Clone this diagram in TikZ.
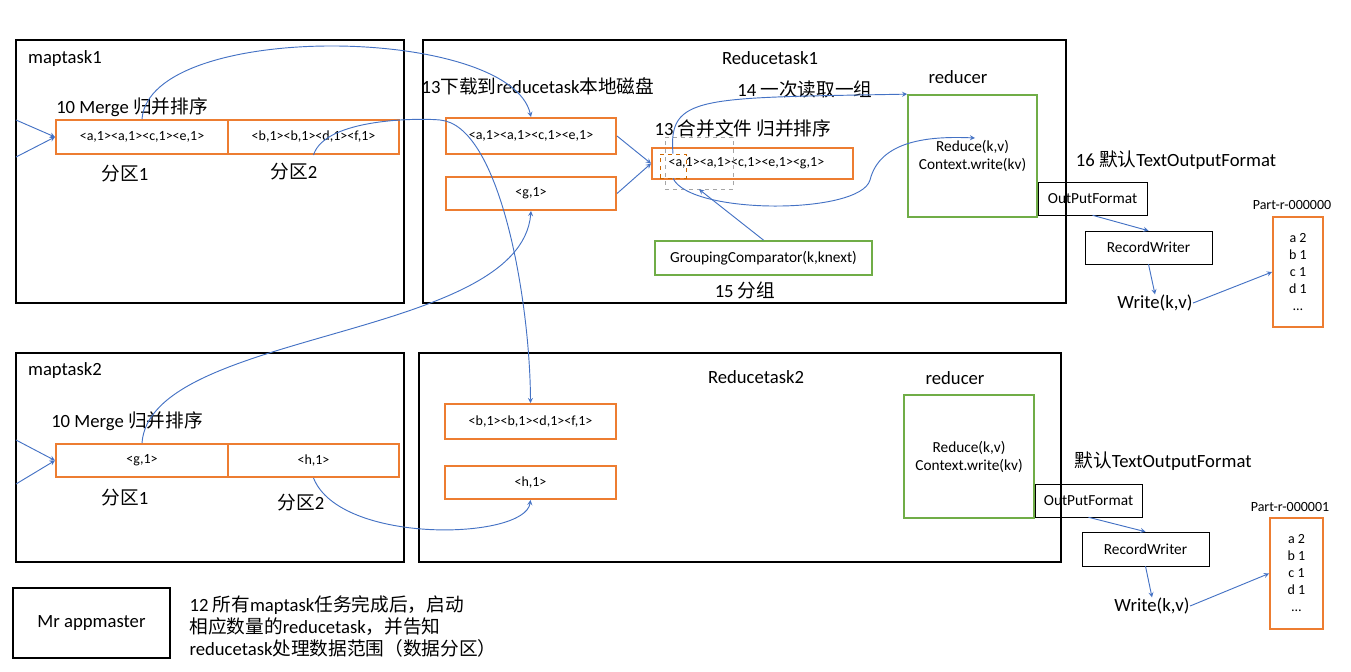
\documentclass[tikz,border=0pt]{standalone}
\usepackage{fontspec}
\setmainfont{Carlito}
\newfontfamily\cjk{Noto Sans CJK SC}
\usetikzlibrary{positioning}
\definecolor{flowblue}{HTML}{4472C4}
\definecolor{partorange}{HTML}{ED7D31}
\definecolor{redgreen}{HTML}{70AD47}
\newcommand{\bigtxt}{\fontsize{14}{16.5}\selectfont}
\newcommand{\midtxt}{\fontsize{11.5}{13.5}\selectfont}
\newcommand{\smalltxt}{\fontsize{10.5}{12.75}\selectfont}

\begin{document}
\begin{tikzpicture}[x=0.75pt,y=-0.75pt,>=stealth,thick]
	\tikzset{sz/.style 2 args={minimum width=#1*0.75pt,minimum height=#2*0.75pt,inner sep=0pt},
		task/.style={draw=black,line width=1.3pt},
		part/.style={draw=partorange,line width=1.5pt,font=\smalltxt},
		green/.style={draw=redgreen,line width=1.3pt,font=\midtxt},
		flow/.style={-{stealth[scale=1.3]},draw=flowblue,line width=0.7pt},
		lbl/.style={font=\bigtxt,inner sep=0pt}}
	\useasboundingbox (0,0) rectangle (1351,671);

	% frames
	\node[task,sz={388}{263}] (MAP1) at (210,171.5) {};
	\node[task,sz={643}{263}] (RED1) at (744.5,171.5) {};
	\node[task,sz={388}{209}] (MAP2) at (210,457.5) {};
	\node[task,sz={642}{209}] (RED2) at (740,457.5) {};
	\node[task,sz={157}{70},font=\bigtxt] (MR) at (91.5,623) {Mr appmaster};

	% maptask partitions
	\node[part,sz={172}{34}] (M1A) at (142,137) {<a,1><a,1><c,1><e,1>};
	\node[part,sz={171}{34}] (M1B) at (313.5,137) {<b,1><b,1><d,1><f,1>};
	\node[part,sz={172}{33}] (M2A) at (142,460.5) {<g,1>};
	\node[part,sz={171}{33}] (M2B) at (313.5,460.5) {<h,1>};

	% reducetask1
	\node[part,sz={170}{36}] (R1A) at (531,136) {<a,1><a,1><c,1><e,1>};
	\node[part,sz={170}{33}] (R1B) at (531,193.5) {<g,1>};
	\node[part,sz={201}{31}] (MERGE) at (752.5,163.5) {};
	\node[font=\smalltxt,inner sep=0pt,anchor=west] at (668,163.5) {<a,1><a,1><c,1><e,1><g,1>};
	\node[draw=gray!70,dashed,thin,sz={68}{52}] (GD) at (699,163) {};
	\node[draw=orange!80!black,dashed,thin,sz={26}{24}] (OA) at (673,166) {};
	\node[green,sz={217}{34}] (GRP) at (763.5,258) {GroupingComparator(k,knext)};
	\node[green,sz={129}{122},align=center] (RD1) at (972.5,156) {Reduce(k,v)\\Context.write(kv)};
	\node[task,thin,sz={109}{33},font=\midtxt] (OF1) at (1092.5,198.5) {OutPutFormat};
	\node[task,thin,sz={127}{33},font=\midtxt] (RW1) at (1148.5,247.5) {RecordWriter};
	\node[part,sz={50}{110},align=center] (P1) at (1298,272) {a 2\\b 1\\c 1\\d 1\\…};
	\node[lbl] (W1) at (1155,303) {Write(k,v)};

	% reducetask2
	\node[part,sz={171}{35}] (R2A) at (530.5,421.5) {<b,1><b,1><d,1><f,1>};
	\node[part,sz={171}{33}] (R2B) at (530.5,482.5) {<h,1>};
	\node[green,sz={130}{123},align=center] (RD2) at (969,456.5) {Reduce(k,v)\\Context.write(kv)};
	\node[task,thin,sz={107}{33},font=\midtxt] (OF2) at (1088.5,500.5) {OutPutFormat};
	\node[task,thin,sz={127}{34},font=\midtxt] (RW2) at (1145.5,549) {RecordWriter};
	\node[part,sz={53}{111},align=center] (P2) at (1296.5,573.5) {a 2\\b 1\\c 1\\d 1\\…};
	\node[lbl] (W2) at (1152,606) {Write(k,v)};

	% labels
	\node[lbl] at (65,59) {maptask1};
	\node[lbl] at (132,107) {10 Merge {\cjk 归并排序}};
	\node[lbl] at (125,174) {{\cjk 分区}1};
	\node[lbl] at (294,172) {{\cjk 分区}2};
	\node[lbl] at (65,371) {maptask2};
	\node[lbl] at (127,421) {10 Merge {\cjk 归并排序}};
	\node[lbl] at (125,498) {{\cjk 分区}1};
	\node[lbl] at (301,503) {{\cjk 分区}2};
	\node[lbl] at (770,58) {Reducetask1};
	\node[lbl] at (958,77) {reducer};
	\node[lbl] at (805,89) {14 {\cjk 一次读取一组}};
	\node[lbl] at (538,86) {13{\cjk 下载到}reducetask{\cjk 本地磁盘}};
	\node[lbl] at (743,128) {13 {\cjk 合并文件 归并排序}};
	\node[lbl] at (745,290) {15 {\cjk 分组}};
	\node[lbl] at (1176,160) {16 {\cjk 默认}TextOutputFormat};
	\node[lbl,font=\smalltxt] at (1292,205) {Part-r-000000};
	\node[lbl] at (756,377) {Reducetask2};
	\node[lbl] at (955,378) {reducer};
	\node[lbl] at (1163,461) {{\cjk 默认}TextOutputFormat};
	\node[lbl,font=\smalltxt] at (1290,507) {Part-r-000001};
	\node[lbl,anchor=north west,align=left] (NOTE) at (189,595)
		{12 {\cjk 所有}maptask{\cjk 任务完成后，启动}\\{\cjk 相应数量的}reducetask{\cjk ，并告知}\\reducetask{\cjk 处理数据范围（数据分区）}};

	\coordinate (IN1A) at (16,120);
	\coordinate (IN1B) at (16,157);
	\coordinate (IN2A) at (16,440);
	\coordinate (IN2B) at (16,484);
	\coordinate (RDIN) at (975,138);

	\draw[flow] (IN1A) -- (M1A.west);
	\draw[flow] (IN1B) -- (M1A.west);
	\draw[flow] (IN2A) -- (M2A.west);
	\draw[flow] (IN2B) -- (M2A.west);
	\draw[flow] (M1A.north) .. controls (150,20) and (510,25) .. (R1A.north);
	\draw[flow] (M1B.south) .. controls (325,118) and (420,118) .. (440,120) .. controls (500,125) and (530,300) .. (R2A.north);
	\draw[flow] (M2A.north) .. controls (150,330) and (520,340) .. (R1B.south);
	\draw[flow] (M2B.south) .. controls (340,545) and (525,540) .. (R2B.south);
	\draw[flow] (R1A.east) -- (MERGE.west);
	\draw[flow] (R1B.east) -- (MERGE.west);
	\draw[flow] (OA.north) .. controls (668,95) and (700,98) .. (RD1.north west);
	\draw[flow] (OA.south) .. controls (690,215) and (860,215) .. (870,180) .. controls (880,140) and (930,136) .. (RDIN);
	\draw[flow] (GRP.north) -- (GD.south);
	\draw[flow] (OF1.south) -- (RW1.north);
	\draw[flow] (RW1.south) -- (W1.north);
	\draw[flow] (W1.east) -- (P1.west);
	\draw[flow] (OF2.south) -- (RW2.north);
	\draw[flow] (RW2.south) -- (W2.north);
	\draw[flow] (W2.east) -- (P2.west);
\end{tikzpicture}
\end{document}
